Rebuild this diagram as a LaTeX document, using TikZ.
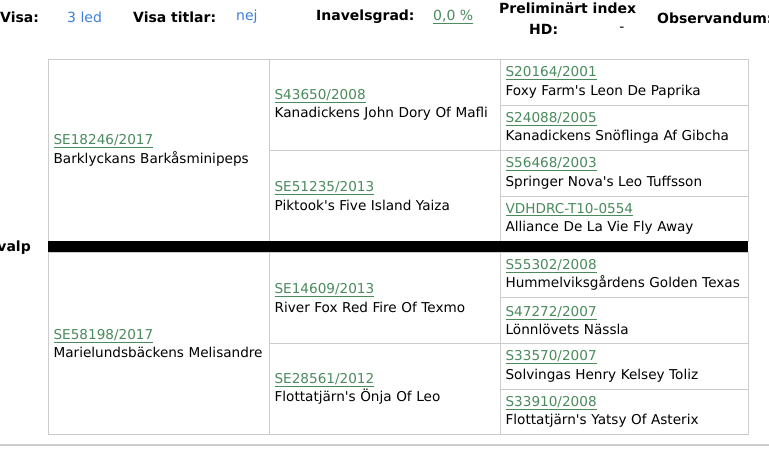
\documentclass[tikz,border=0pt]{standalone}
\usepackage{fontspec}
\setmainfont{DejaVu Sans}
\definecolor{lnkgreen}{HTML}{4A8A5C}
\definecolor{lnkblue}{HTML}{3C7FD8}
\definecolor{gridgray}{HTML}{CCCCCC}
\newcommand{\lnk}[1]{\textcolor{lnkgreen}{\underline{#1}}}
\newcommand{\ap}{\textquotesingle}
\tikzset{
  cell/.style={draw=gridgray, line width=1.2pt, rectangle, anchor=north west, inner sep=5pt, align=left,
    font=\fontsize{13.6}{18.5}\selectfont},
  hdr/.style={font=\fontsize{14}{16}\selectfont\bfseries, inner sep=0pt},
  hval/.style={font=\fontsize{14}{16}\selectfont, inner sep=0pt},
}
\newcommand{\cellat}[7]{% name, x, y, w, h, link, name
  \node[cell, minimum width=#4pt, minimum height=#5pt, text width=\dimexpr#4pt-10pt\relax] (#1) at (#2,#3) {\mbox{\lnk{#6}}\\\mbox{#7}};}
\begin{document}
\begin{tikzpicture}[x=1pt,y=-1pt]
\useasboundingbox (0,0) rectangle (769,472);
% header
\node[hdr, anchor=west] (visa) at (0,17) {Visa:};
\node[hval, anchor=west, text=lnkblue] (visav) at (67,17) {3 led};
\node[hdr, anchor=west] (titl) at (133,17) {Visa titlar:};
\node[hval, anchor=west, text=lnkblue] (titlv) at (236,17) {nej};
\node[hdr, anchor=west] (inav) at (316,17) {Inavelsgrad:};
\node[hval, anchor=west] (inavv) at (433,17) {\lnk{0,0 \%}};
\node[hdr, anchor=west] (prel) at (499,8) {Preliminärt index};
\node[hdr, anchor=west] (hd) at (529,29) {HD:};
\node[hval, anchor=center] (hdv) at (622,29) {-};
\node[hdr, anchor=west] (obs) at (657,18) {Observandum:};
\node[hdr, anchor=east] (valp) at (31,248) {valp};
% column 1
\cellat{f}{48}{59}{221}{182}{SE18246/2017}{Barklyckans Barkåsminipeps}
\cellat{m}{48}{252}{221}{182}{SE58198/2017}{Marielundsbäckens Melisandre}
% column 2
\cellat{ff}{269}{59}{231}{91}{S43650/2008}{Kanadickens John Dory Of Mafli}
\cellat{fm}{269}{150}{231}{91}{SE51235/2013}{Piktook\ap s Five Island Yaiza}
\cellat{mf}{269}{252}{231}{91}{SE14609/2013}{River Fox Red Fire Of Texmo}
\cellat{mm}{269}{343}{231}{91}{SE28561/2012}{Flottatjärn\ap s Önja Of Leo}
% column 3
\cellat{fff}{500}{59}{248}{46}{S20164/2001}{Foxy Farm\ap s Leon De Paprika}
\cellat{ffm}{500}{105}{248}{45}{S24088/2005}{Kanadickens Snöflinga Af Gibcha}
\cellat{fmf}{500}{150}{248}{46}{S56468/2003}{Springer Nova\ap s Leo Tuffsson}
\cellat{fmm}{500}{196}{248}{45}{VDHDRC-T10-0554}{Alliance De La Vie Fly Away}
\cellat{mff}{500}{252}{248}{45}{S55302/2008}{Hummelviksgårdens Golden Texas}
\cellat{mfm}{500}{297}{248}{46}{S47272/2007}{Lönnlövets Nässla}
\cellat{mmf}{500}{343}{248}{46}{S33570/2007}{Solvingas Henry Kelsey Toliz}
\cellat{mmm}{500}{389}{248}{45}{S33910/2008}{Flottatjärn\ap s Yatsy Of Asterix}
% black separator bar
\fill[black] (48,241) rectangle (748,252);
% bottom rule
\draw[gridgray, line width=2pt] (0,445) -- (769,445);
\end{tikzpicture}
\end{document}
